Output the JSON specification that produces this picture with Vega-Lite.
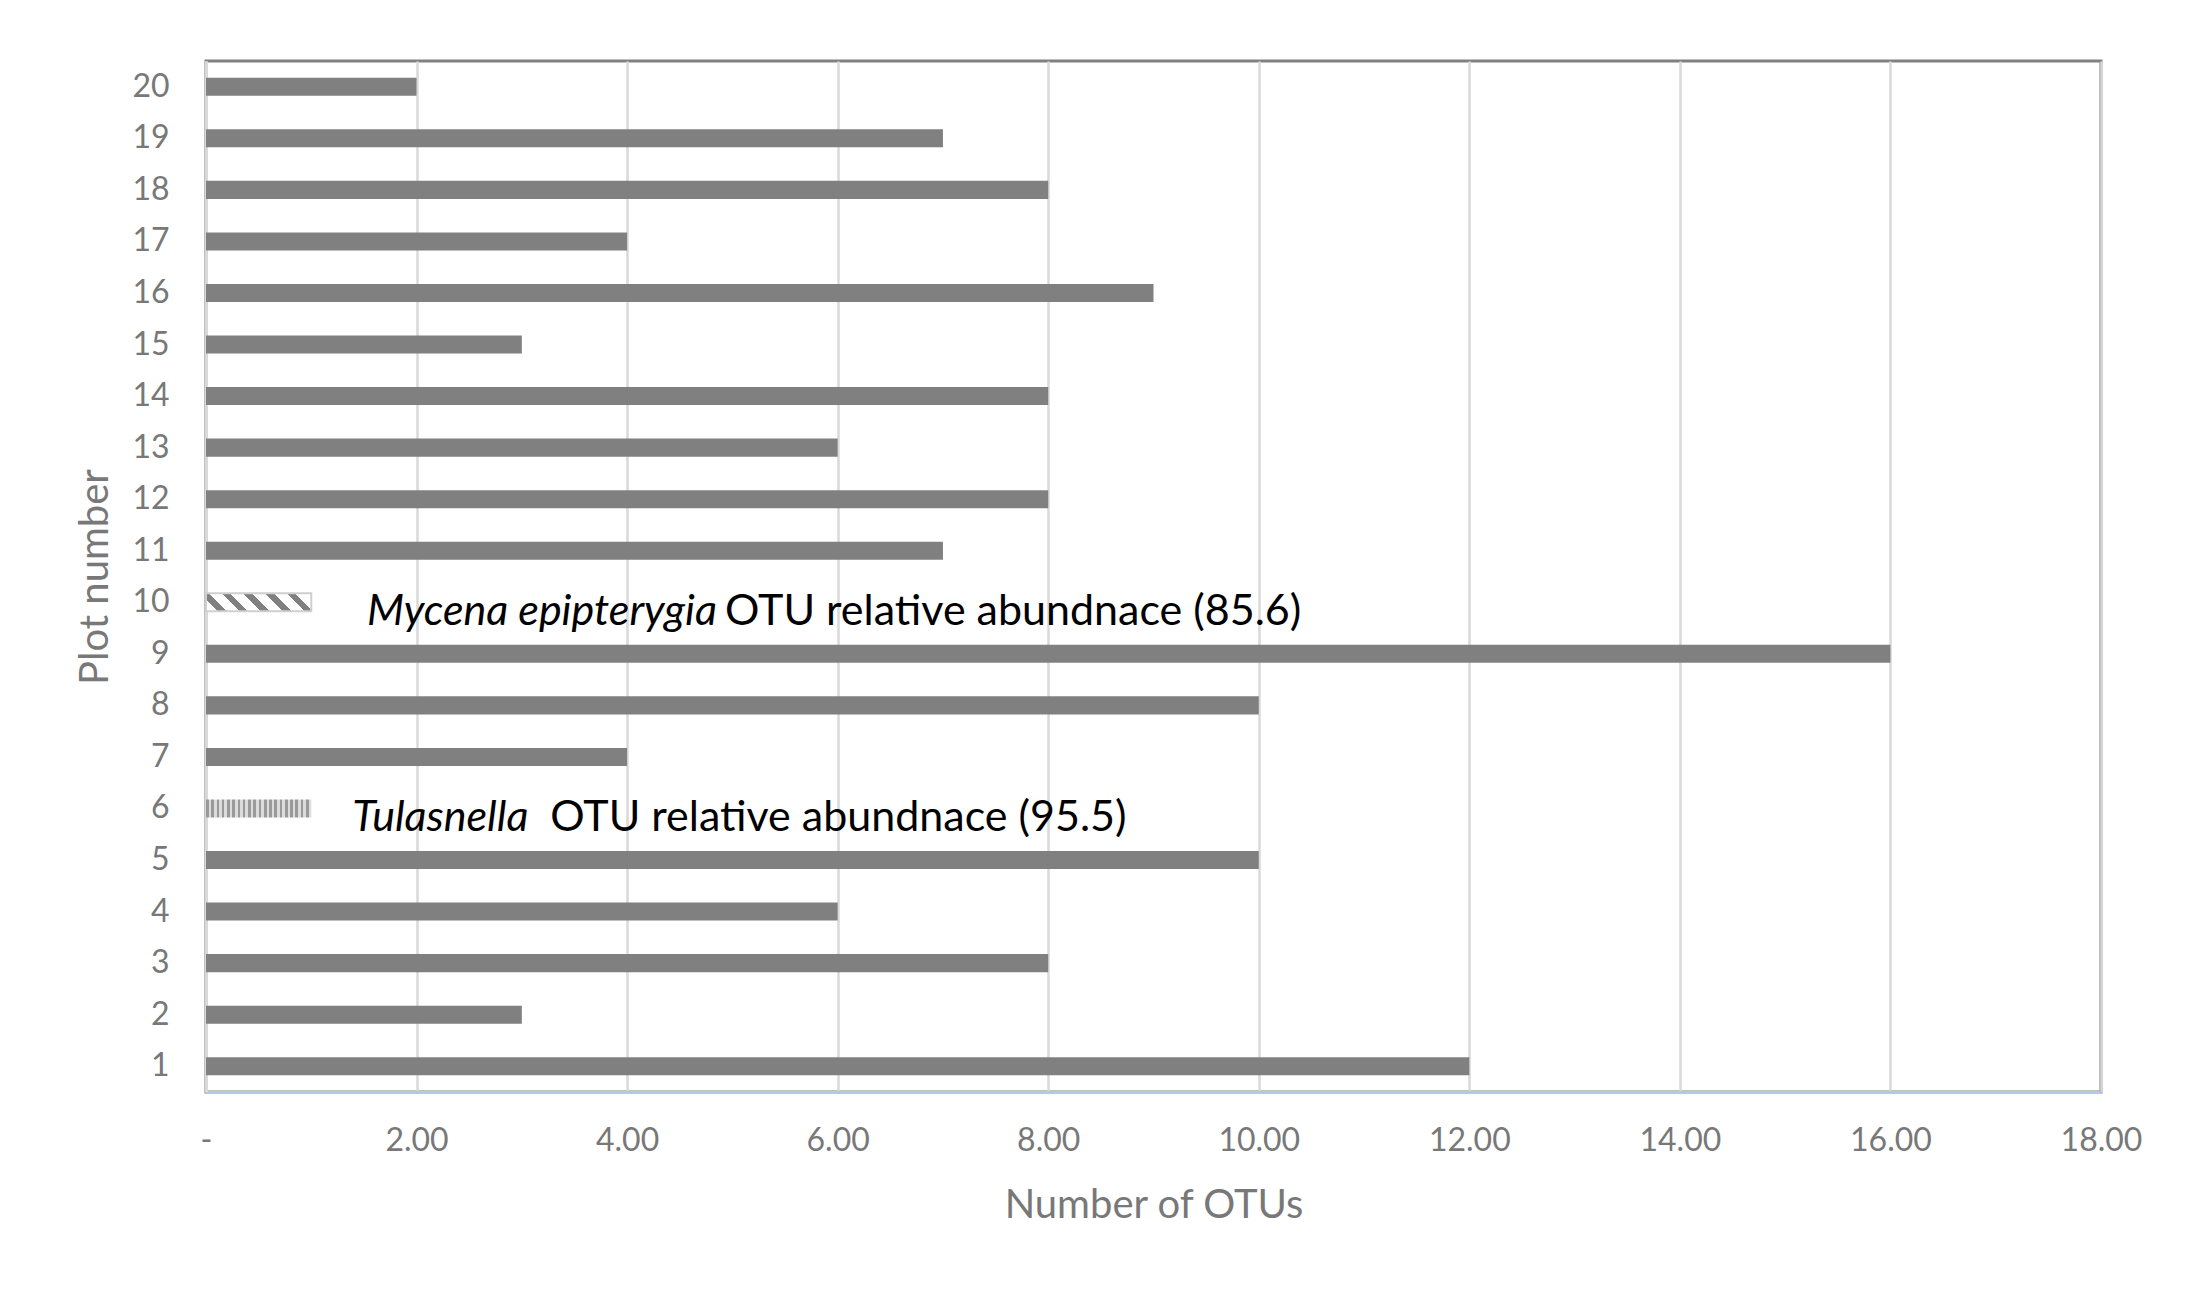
{
  "$schema": "https://vega.github.io/schema/vega-lite/v6.json",
  "width": 1895,
  "height": 1031,
  "autosize": "none",
  "padding": {"left": 206, "top": 61, "right": 110, "bottom": 198},
  "background": "white",
  "config": {
    "font": "Lato",
    "view": {"stroke": "#808080", "strokeWidth": 3},
    "axis": {"labelFont": "Lato", "titleFont": "Lato", "labelColor": "#787878", "titleColor": "#787878", "titleFontWeight": "normal"}
  },
  "datasets": {
    "bars": [
      {"plot": 20, "otus": 2, "kind": "solid"},
      {"plot": 19, "otus": 7, "kind": "solid"},
      {"plot": 18, "otus": 8, "kind": "solid"},
      {"plot": 17, "otus": 4, "kind": "solid"},
      {"plot": 16, "otus": 9, "kind": "solid"},
      {"plot": 15, "otus": 3, "kind": "solid"},
      {"plot": 14, "otus": 8, "kind": "solid"},
      {"plot": 13, "otus": 6, "kind": "solid"},
      {"plot": 12, "otus": 8, "kind": "solid"},
      {"plot": 11, "otus": 7, "kind": "solid"},
      {"plot": 10, "otus": 1, "kind": "Mycena"},
      {"plot": 9, "otus": 16, "kind": "solid"},
      {"plot": 8, "otus": 10, "kind": "solid"},
      {"plot": 7, "otus": 4, "kind": "solid"},
      {"plot": 6, "otus": 1, "kind": "Tulasnella"},
      {"plot": 5, "otus": 10, "kind": "solid"},
      {"plot": 4, "otus": 6, "kind": "solid"},
      {"plot": 3, "otus": 8, "kind": "solid"},
      {"plot": 2, "otus": 3, "kind": "solid"},
      {"plot": 1, "otus": 12, "kind": "solid"}
    ],
    "notes": [
      {"plot": 10, "at": 1.53, "species": "Mycena epipterygia", "at2": 4.93, "rest": "OTU relative abundnace (85.6)"},
      {"plot": 6, "at": 1.39, "species": "Tulasnella", "at2": 3.27, "rest": "OTU relative abundnace (95.5)"}
    ]
  },
  "encoding": {
    "y": {
      "field": "plot",
      "type": "ordinal",
      "sort": "descending",
      "scale": {"paddingInner": 0.65, "paddingOuter": 0.325},
      "axis": {
        "title": "Plot number",
        "titleFontSize": 40,
        "titlePadding": 16,
        "labelFontSize": 32,
        "labelPadding": 37,
        "ticks": false,
        "domainColor": "#d9d9d9",
        "domainWidth": 3,
        "grid": false
      }
    }
  },
  "layer": [
    {
      "data": {"name": "bars"},
      "transform": [{"filter": "datum.kind === 'solid'"}],
      "mark": {"type": "bar", "fill": "#808080"},
      "encoding": {
        "x": {
          "field": "otus",
          "type": "quantitative",
          "scale": {"domain": [0, 18], "nice": false},
          "axis": {
            "title": "Number of OTUs",
            "titleFontSize": 40,
            "titlePadding": 29,
            "labelFontSize": 32,
            "labelPadding": 33,
            "labelFlush": false,
            "values": [0, 2, 4, 6, 8, 10, 12, 14, 16, 18],
            "labelExpr": "datum.value === 0 ? '-' : format(datum.value, '.2f')",
            "ticks": false,
            "domainColor": "#b4c7e7",
            "domainWidth": 3,
            "grid": true,
            "gridColor": "#d9d9d9",
            "gridWidth": 2.5
          }
        }
      }
    },
    {
      "data": {"name": "bars"},
      "transform": [{"filter": "datum.kind === 'Mycena'"}],
      "mark": {
        "type": "bar",
        "stroke": "#cfcfcf",
        "strokeWidth": 2,
        "fill": {
          "gradient": "linear",
          "x1": 0, "y1": 0.5855, "x2": 1, "y2": 0.4145,
          "stops": [
            {"offset": 0, "color": "#ffffff"},
            {"offset": 0.04, "color": "#ffffff"},
            {"offset": 0.04, "color": "#808080"},
            {"offset": 0.12, "color": "#808080"},
            {"offset": 0.12, "color": "#ffffff"},
            {"offset": 0.24, "color": "#ffffff"},
            {"offset": 0.24, "color": "#808080"},
            {"offset": 0.32, "color": "#808080"},
            {"offset": 0.32, "color": "#ffffff"},
            {"offset": 0.44, "color": "#ffffff"},
            {"offset": 0.44, "color": "#808080"},
            {"offset": 0.52, "color": "#808080"},
            {"offset": 0.52, "color": "#ffffff"},
            {"offset": 0.64, "color": "#ffffff"},
            {"offset": 0.64, "color": "#808080"},
            {"offset": 0.72, "color": "#808080"},
            {"offset": 0.72, "color": "#ffffff"},
            {"offset": 0.84, "color": "#ffffff"},
            {"offset": 0.84, "color": "#808080"},
            {"offset": 0.92, "color": "#808080"},
            {"offset": 0.92, "color": "#ffffff"},
            {"offset": 1, "color": "#ffffff"}
          ]
        }
      },
      "encoding": {"x": {"field": "otus", "type": "quantitative"}}
    },
    {
      "data": {"name": "bars"},
      "transform": [{"filter": "datum.kind === 'Tulasnella'"}],
      "mark": {
        "type": "bar",
        "fill": {
          "gradient": "linear",
          "x1": 0, "y1": 0, "x2": 1, "y2": 0,
          "stops": [
            {"offset": 0, "color": "#9a9a9a"}, {"offset": 0.025, "color": "#9a9a9a"}, {"offset": 0.025, "color": "#dcdcdc"}, {"offset": 0.05, "color": "#dcdcdc"},
            {"offset": 0.05, "color": "#9a9a9a"}, {"offset": 0.075, "color": "#9a9a9a"}, {"offset": 0.075, "color": "#dcdcdc"}, {"offset": 0.10, "color": "#dcdcdc"},
            {"offset": 0.10, "color": "#9a9a9a"}, {"offset": 0.125, "color": "#9a9a9a"}, {"offset": 0.125, "color": "#dcdcdc"}, {"offset": 0.15, "color": "#dcdcdc"},
            {"offset": 0.15, "color": "#9a9a9a"}, {"offset": 0.175, "color": "#9a9a9a"}, {"offset": 0.175, "color": "#dcdcdc"}, {"offset": 0.20, "color": "#dcdcdc"},
            {"offset": 0.20, "color": "#9a9a9a"}, {"offset": 0.225, "color": "#9a9a9a"}, {"offset": 0.225, "color": "#dcdcdc"}, {"offset": 0.25, "color": "#dcdcdc"},
            {"offset": 0.25, "color": "#9a9a9a"}, {"offset": 0.275, "color": "#9a9a9a"}, {"offset": 0.275, "color": "#dcdcdc"}, {"offset": 0.30, "color": "#dcdcdc"},
            {"offset": 0.30, "color": "#9a9a9a"}, {"offset": 0.325, "color": "#9a9a9a"}, {"offset": 0.325, "color": "#dcdcdc"}, {"offset": 0.35, "color": "#dcdcdc"},
            {"offset": 0.35, "color": "#9a9a9a"}, {"offset": 0.375, "color": "#9a9a9a"}, {"offset": 0.375, "color": "#dcdcdc"}, {"offset": 0.40, "color": "#dcdcdc"},
            {"offset": 0.40, "color": "#9a9a9a"}, {"offset": 0.425, "color": "#9a9a9a"}, {"offset": 0.425, "color": "#dcdcdc"}, {"offset": 0.45, "color": "#dcdcdc"},
            {"offset": 0.45, "color": "#9a9a9a"}, {"offset": 0.475, "color": "#9a9a9a"}, {"offset": 0.475, "color": "#dcdcdc"}, {"offset": 0.50, "color": "#dcdcdc"},
            {"offset": 0.50, "color": "#9a9a9a"}, {"offset": 0.525, "color": "#9a9a9a"}, {"offset": 0.525, "color": "#dcdcdc"}, {"offset": 0.55, "color": "#dcdcdc"},
            {"offset": 0.55, "color": "#9a9a9a"}, {"offset": 0.575, "color": "#9a9a9a"}, {"offset": 0.575, "color": "#dcdcdc"}, {"offset": 0.60, "color": "#dcdcdc"},
            {"offset": 0.60, "color": "#9a9a9a"}, {"offset": 0.625, "color": "#9a9a9a"}, {"offset": 0.625, "color": "#dcdcdc"}, {"offset": 0.65, "color": "#dcdcdc"},
            {"offset": 0.65, "color": "#9a9a9a"}, {"offset": 0.675, "color": "#9a9a9a"}, {"offset": 0.675, "color": "#dcdcdc"}, {"offset": 0.70, "color": "#dcdcdc"},
            {"offset": 0.70, "color": "#9a9a9a"}, {"offset": 0.725, "color": "#9a9a9a"}, {"offset": 0.725, "color": "#dcdcdc"}, {"offset": 0.75, "color": "#dcdcdc"},
            {"offset": 0.75, "color": "#9a9a9a"}, {"offset": 0.775, "color": "#9a9a9a"}, {"offset": 0.775, "color": "#dcdcdc"}, {"offset": 0.80, "color": "#dcdcdc"},
            {"offset": 0.80, "color": "#9a9a9a"}, {"offset": 0.825, "color": "#9a9a9a"}, {"offset": 0.825, "color": "#dcdcdc"}, {"offset": 0.85, "color": "#dcdcdc"},
            {"offset": 0.85, "color": "#9a9a9a"}, {"offset": 0.875, "color": "#9a9a9a"}, {"offset": 0.875, "color": "#dcdcdc"}, {"offset": 0.90, "color": "#dcdcdc"},
            {"offset": 0.90, "color": "#9a9a9a"}, {"offset": 0.925, "color": "#9a9a9a"}, {"offset": 0.925, "color": "#dcdcdc"}, {"offset": 0.95, "color": "#dcdcdc"},
            {"offset": 0.95, "color": "#9a9a9a"}, {"offset": 0.975, "color": "#9a9a9a"}, {"offset": 0.975, "color": "#dcdcdc"}, {"offset": 1, "color": "#dcdcdc"}
          ]
        }
      },
      "encoding": {"x": {"field": "otus", "type": "quantitative"}}
    },
    {
      "data": {"name": "notes"},
      "mark": {"type": "text", "align": "left", "baseline": "middle", "dy": 10, "fontSize": 43, "fontStyle": "italic", "font": "Lato", "color": "#000000"},
      "encoding": {
        "x": {"field": "at", "type": "quantitative"},
        "text": {"field": "species"}
      }
    },
    {
      "data": {"name": "notes"},
      "mark": {"type": "text", "align": "left", "baseline": "middle", "dy": 10, "fontSize": 43, "font": "Lato", "color": "#000000"},
      "encoding": {
        "x": {"field": "at2", "type": "quantitative"},
        "text": {"field": "rest"}
      }
    }
  ]
}
